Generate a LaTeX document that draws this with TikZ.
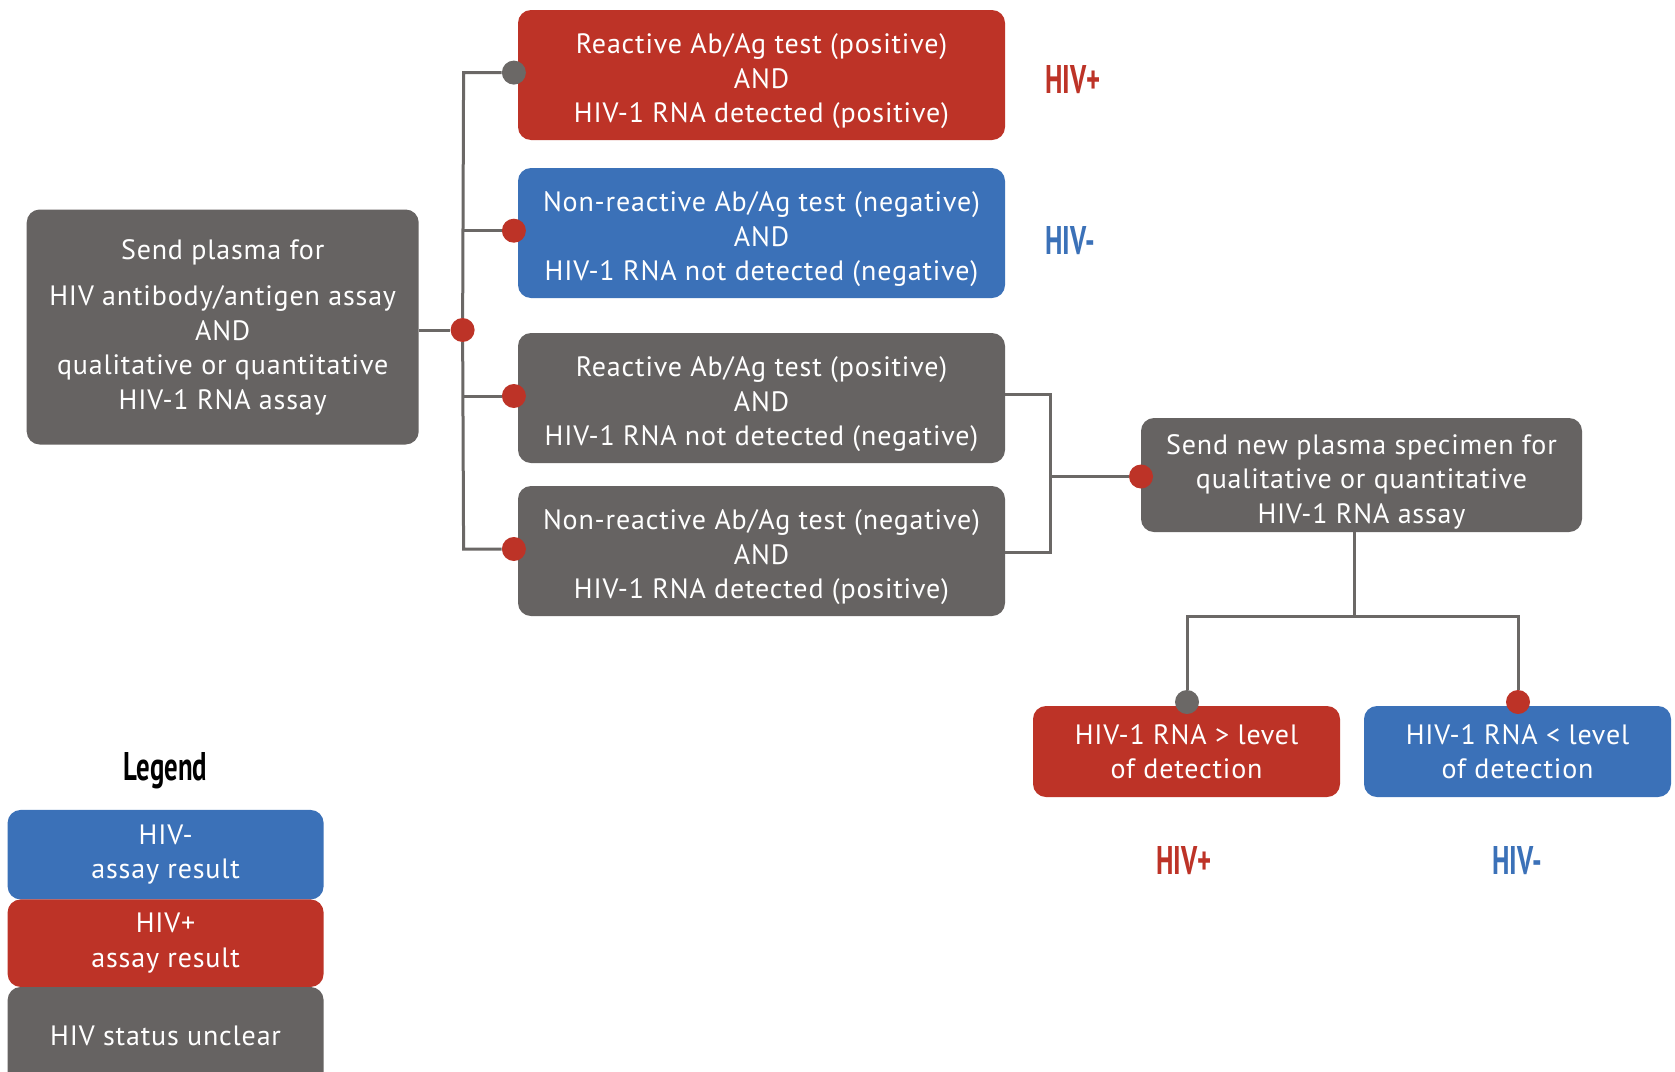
\documentclass[tikz,border=0pt]{standalone}
\usepackage{fontspec}
\setmainfont[LetterSpace=3]{PT Sans}
\newfontfamily\condfont[FakeStretch=0.67]{PT Sans}
\definecolor{hred}{HTML}{BD3327}
\definecolor{hblue}{HTML}{3B71B8}
\definecolor{hgrey}{HTML}{666362}
\definecolor{lgrey}{HTML}{6B6866}
\newcommand\dropfirst{\rule{0pt}{33pt}}
\tikzset{
  box/.style={rounded corners=13pt, text=white, align=center, inner sep=0pt,
    font=\fontsize{28}{34.5}\selectfont},
  conn/.style={draw=lgrey, line width=3pt},
  dotr/.style={circle, fill=hred, minimum size=24pt, inner sep=0pt},
  dotg/.style={circle, fill=lgrey, minimum size=24pt, inner sep=0pt},
  reslab/.style={font=\condfont\bfseries\fontsize{40}{44}\selectfont, inner sep=0pt},
}
\begin{document}
\begin{tikzpicture}[x=1pt,y=-1pt]
\clip (0,0) rectangle (1675,1071);
\fill[white] (0,0) rectangle (1675,1071);

% main box
\node[box, fill=hgrey, minimum width=392pt, minimum height=235pt] (main) at (222.7,327)
  {Send plasma for\\[12pt]HIV antibody/antigen assay\\AND\\qualitative or quantitative\\HIV-1 RNA assay};

% result boxes
\node[box, fill=hred, minimum width=487pt, minimum height=130pt] (r1) at (761.5,75)
  {\dropfirst Reactive Ab/Ag test (positive)\\AND\\HIV-1 RNA detected (positive)};
\node[box, fill=hblue, minimum width=487pt, minimum height=130pt] (b1) at (761.5,233)
  {\dropfirst Non-reactive Ab/Ag test (negative)\\AND\\HIV-1 RNA not detected (negative)};
\node[box, fill=hgrey, minimum width=487pt, minimum height=130pt] (g1) at (761.5,398)
  {\dropfirst Reactive Ab/Ag test (positive)\\AND\\HIV-1 RNA not detected (negative)};
\node[box, fill=hgrey, minimum width=487pt, minimum height=130pt] (g2) at (761.5,551)
  {\dropfirst Non-reactive Ab/Ag test (negative)\\AND\\HIV-1 RNA detected (positive)};

\node[reslab, text=hred, anchor=west] (l1) at (1045,80) {HIV+};
\node[reslab, text=hblue, anchor=west] (l2) at (1045,241) {HIV-};

% send new box
\node[box, fill=hgrey, minimum width=441pt, minimum height=114pt] (send) at (1361.5,475)
  {\dropfirst Send new plasma specimen for\\qualitative or quantitative\\HIV-1 RNA assay};

% bottom boxes
\node[box, fill=hred, minimum width=307pt, minimum height=91pt] (rb) at (1186.5,751.5)
  {HIV-1 RNA > level\\of detection};
\node[box, fill=hblue, minimum width=307pt, minimum height=91pt] (bb) at (1517.5,751.5)
  {HIV-1 RNA < level\\of detection};
\node[reslab, text=hred] (l3) at (1184,861) {HIV+};
\node[reslab, text=hblue] (l4) at (1517,861) {HIV-};

% legend
\node[reslab, text=black] (legt) at (165.6,771) {Legend};
\node[box, fill=hblue, minimum width=316pt, minimum height=89.5pt] (lb) at (165.6,854.7) {HIV-\\assay result};
\node[box, fill=hred, minimum width=316pt, minimum height=87.5pt] (lr) at (165.6,943.2) {HIV+\\assay result};
\node[box, fill=hgrey, minimum width=316pt, minimum height=98pt] (lg) at (165.6,1036) {HIV status unclear};

% left connectors
\coordinate (ttop) at (463.6,72.6);
\coordinate (tbot) at (463.6,549);
\coordinate (tb) at (463.6,230.7);
\coordinate (tg) at (463.6,396);
\node[dotg] (d1) at (513.9,72.6) {};
\node[dotr] (d2) at (513.9,230.7) {};
\node[dotr] (d3) at (513.9,396) {};
\node[dotr] (d4) at (513.9,549) {};
\node[dotr] (jn) at (462.6,330) {};
\draw[conn] (main.east |- jn) -- (jn);
\draw[conn] (d1) -- (ttop) -- (jn) -- (tbot) -- (d4);
\draw[conn] (tb) -- (d2);
\draw[conn] (tg) -- (d3);

% right connectors
\coordinate (rj) at (1050,476.5);
\node[dotr] (d5) at (1141,476.5) {};
\draw[conn] (g1.east |- 0,394) -| (rj) |- (g2.east |- 0,552);
\draw[conn] (rj) -- (d5);

% bottom connectors
\coordinate (sb) at (1354.6,616.4);
\node[dotg] (d6) at (1187,702) {};
\node[dotr] (d7) at (1518,702) {};
\draw[conn] (sb |- send.south) -- (sb);
\draw[conn] (d6) |- (sb) -| (d7);
\end{tikzpicture}
\end{document}
